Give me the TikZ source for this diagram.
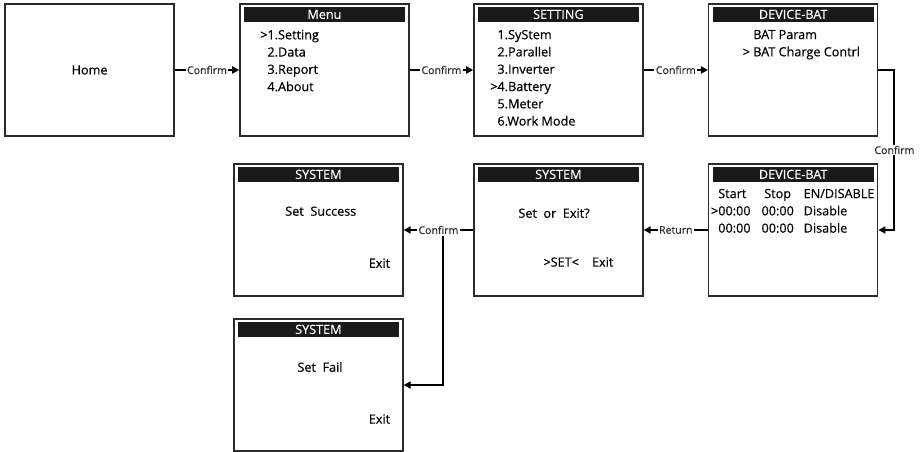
\documentclass[tikz,border=0pt]{standalone}
\usepackage{fontspec}
\setmainfont{Open Sans}[FakeBold=0.45]
\usepackage{xcolor}
\usepackage{tikz}
\usetikzlibrary{positioning,arrows.meta,calc}
\definecolor{framegrey}{HTML}{2B2B2B}
\definecolor{barblack}{HTML}{1A1A1A}
\definecolor{labelgrey}{HTML}{2E2E2E}

\begin{document}
\begin{tikzpicture}[
    every node/.style={font=\fontsize{9}{12.3}\selectfont, inner sep=0pt},
    screen/.style={draw=framegrey, line width=1pt, minimum width=4.225cm, minimum height=3.3cm}, % ecran
    bar/.style={fill=barblack, text=white, minimum width=4.02cm, minimum height=0.38cm},      % titre
    items/.style={anchor=north west, align=left},
    lbl/.style={font=\fontsize{7.5}{9}\selectfont, text=labelgrey, fill=white, inner sep=1pt},
    flow/.style={-{Triangle[length=5pt,width=5pt]}, line width=1.4pt}
  ]
  \useasboundingbox (0,0) rectangle (23,-11.3);

  % ============ rangee du haut : Home -> Menu -> SETTING -> DEVICE-BAT ======
  \node[screen] (home)    at (2.24,-1.75)  {Home};
  \node[screen] (menu)    at (8.11,-1.75)  {};
  \node[screen] (setting) at (13.96,-1.75) {};
  \node[screen] (devtop)  at (19.83,-1.75) {};

  \node[bar, below=0.08cm of menu.north]    (menuT)    {Menu};
  \node[bar, below=0.08cm of setting.north] (settingT) {SETTING};
  \node[bar, below=0.08cm of devtop.north]  (devtopT)  {DEVICE-BAT};

  \node[items] (menuL) at ($(menu.north west)+(0.7,-0.66)$)
    {\llap{>}1.Setting\\ 2.Data\\ 3.Report\\ 4.About};
  \node[items] (settingL) at ($(setting.north west)+(0.6,-0.66)$)
    {1.SyStem\\ 2.Parallel\\ 3.Inverter\\ \llap{>}4.Battery\\ 5.Meter\\ 6.Work Mode};
  \node[items] (devtopL) at ($(devtop.north west)+(1.125,-0.66)$)
    {BAT Param\\ \llap{> }BAT Charge Contrl};

  % ============ rangee du bas : DEVICE-BAT -> SYSTEM -> resultat ============
  \node[screen] (devbot)  at (19.83,-5.75) {};
  \node[screen] (sysmid)  at (13.96,-5.75) {};
  \node[screen] (sysok)   at (7.96,-5.75)  {};
  \node[screen] (sysfail) at (7.96,-9.625) {};

  \node[bar, below=0.08cm of devbot.north]  (devbotT)  {DEVICE-BAT};
  \node[bar, below=0.08cm of sysmid.north]  (sysmidT)  {SYSTEM};
  \node[bar, below=0.08cm of sysok.north]   (sysokT)   {SYSTEM};
  \node[bar, below=0.08cm of sysfail.north] (sysfailT) {SYSTEM};

  \node[anchor=north west] (devbotL) at ($(devbot.north west)+(0.25,-0.56)$)
    {\begin{tabular}{@{}l@{\hspace{7.8pt}}c@{\hspace{7pt}}l@{}}
       Start & Stop & EN/DISABLE\\
       \llap{>}00:00 & 00:00 & Disable\\
       00:00 & 00:00 & Disable
     \end{tabular}};

  \node (sysmidQ) at ($(sysmid.center)+(-0.11,0.42)$) {Set\ \ or\ \ Exit?};
  \node (sysmidA) at ($(sysmid.center)+(0.5,-0.8)$)  {>SET<\ \ \ \ Exit};
  \node (sysokM)  at ($(sysok.center)+(0.06,0.47)$)  {Set\ \ Success};
  \node[anchor=east] (sysokX) at ($(sysok.east)+(-0.33,-0.83)$) {Exit};
  \node (sysfailM) at ($(sysfail.center)+(0.04,0.45)$) {Set\ \ Fail};
  \node[anchor=east] (sysfailX) at ($(sysfail.east)+(-0.33,-0.85)$) {Exit};

  % ============ les transitions ===========================================
  \draw[flow] (home) -- node[lbl] (c1) {Confirm} (menu);
  \draw[flow] (menu) -- node[lbl] (c2) {Confirm} (setting);
  \draw[flow] (setting) -- node[lbl] (c3) {Confirm} (devtop);
  \draw[flow] (devtop.east) -- ++(0.4,0) |- node[lbl, pos=0.25] (c4) {Confirm} (devbot.east);
  \draw[flow] (devbot) -- node[lbl] (ret) {Return} (sysmid);
  \draw[flow] (sysmid) -- node[lbl] (c5) {Confirm} (sysok);
  \draw[flow] ($(c5.south)+(0.12,0)$) |- (sysfail.east);

\end{tikzpicture}
\end{document}
